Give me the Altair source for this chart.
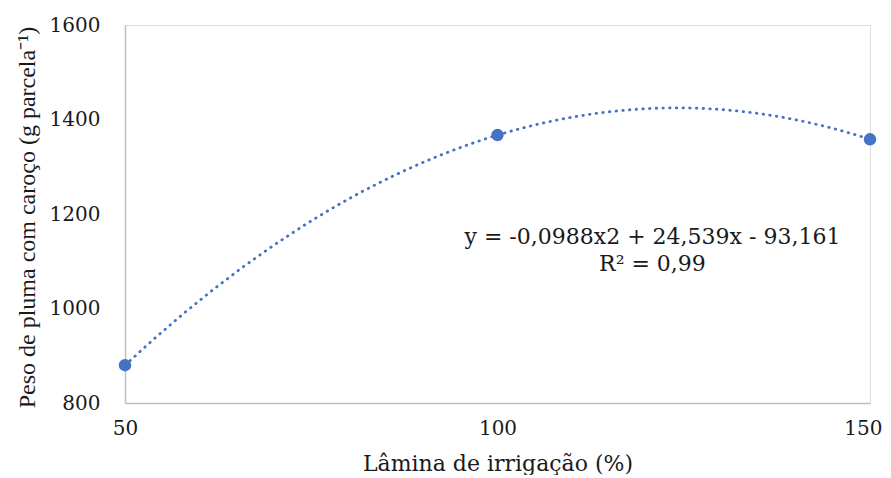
import altair as alt
import pandas as pd

lamina = [50, 100, 150]
peso = [880, 1367, 1358]

eq_lines = ["y = -0,0988x2 + 24,539x - 93,161", "R² = 0,99"]
eq_x = [120.8, 120.8]
eq_y = [1151, 1094]

df = pd.DataFrame({"x": lamina, "y": peso})
df_eq = pd.DataFrame({"t": eq_lines, "x": eq_x, "y": eq_y})

BLUE = "#4472C4"
FONT = "DejaVu Serif"
FONT_Y = "Liberation Serif"
TXT = "#1a1a1a"

xs = alt.Scale(domain=[50, 150], nice=False, zero=False)
ys = alt.Scale(domain=[800, 1600], nice=False, zero=False)

xax = alt.Axis(values=[50, 100, 150], format="d", ticks=False, grid=False, domainColor="#BFBFBF",
               domainWidth=1.5, labelFont=FONT, labelFontSize=20, labelColor=TXT,
               labelPadding=15, labelFlush=False, labelOverlap=False,
               labelAlign=alt.condition("datum.value == 150", alt.value("right"), alt.value("center")),
               labelOffset=alt.condition("datum.value == 150", alt.value(12), alt.value(0)),
               title="Lâmina de irrigação (%)", titleFont=FONT,
               titleFontSize=22, titleFontWeight="normal", titleColor=TXT,
               titleY=50, titleBaseline="top")
yax = alt.Axis(values=[800, 1000, 1200, 1400, 1600], format="d", ticks=False, grid=False,
               domainColor="#BFBFBF", domainWidth=1.5, labelFont=FONT, labelFontSize=20,
               labelColor=TXT, labelPadding=25, labelFlush=False, labelOverlap=False,
               title="Peso de pluma com caroço (g parcela⁻¹)", titleFont=FONT_Y,
               titleFontSize=24, titleFontWeight="normal", titleColor=TXT,
               titleX=-91, titleY=192, titleBaseline="alphabetic", titleAngle=-90)

base = alt.Chart(df)

trend = base.transform_regression("x", "y", method="poly", order=2, extent=[50, 150]).mark_line(
    color=BLUE, strokeWidth=2.8, strokeDash=[0.5, 6.2], strokeCap="round"
).encode(x=alt.X("x:Q", scale=xs, axis=xax), y=alt.Y("y:Q", scale=ys, axis=yax))

pts = base.mark_circle(color=BLUE, opacity=1, size=155).encode(
    x=alt.X("x:Q", scale=xs), y=alt.Y("y:Q", scale=ys)
)

txt = alt.Chart(df_eq).mark_text(font=FONT, fontSize=22, color=TXT, align="center",
                                 baseline="middle").encode(
    x=alt.X("x:Q", scale=xs), y=alt.Y("y:Q", scale=ys), text="t:N"
)

chart = alt.layer(trend, pts, txt).properties(
    width=745, height=378,
    autosize=alt.AutoSizeParams(type="none"),
    padding={"left": 117, "top": 17, "right": 13, "bottom": 72},
).configure_view(stroke=None).configure(background="white")

chart.save("out.html", embed_options={"renderer": "svg", "actions": False})
